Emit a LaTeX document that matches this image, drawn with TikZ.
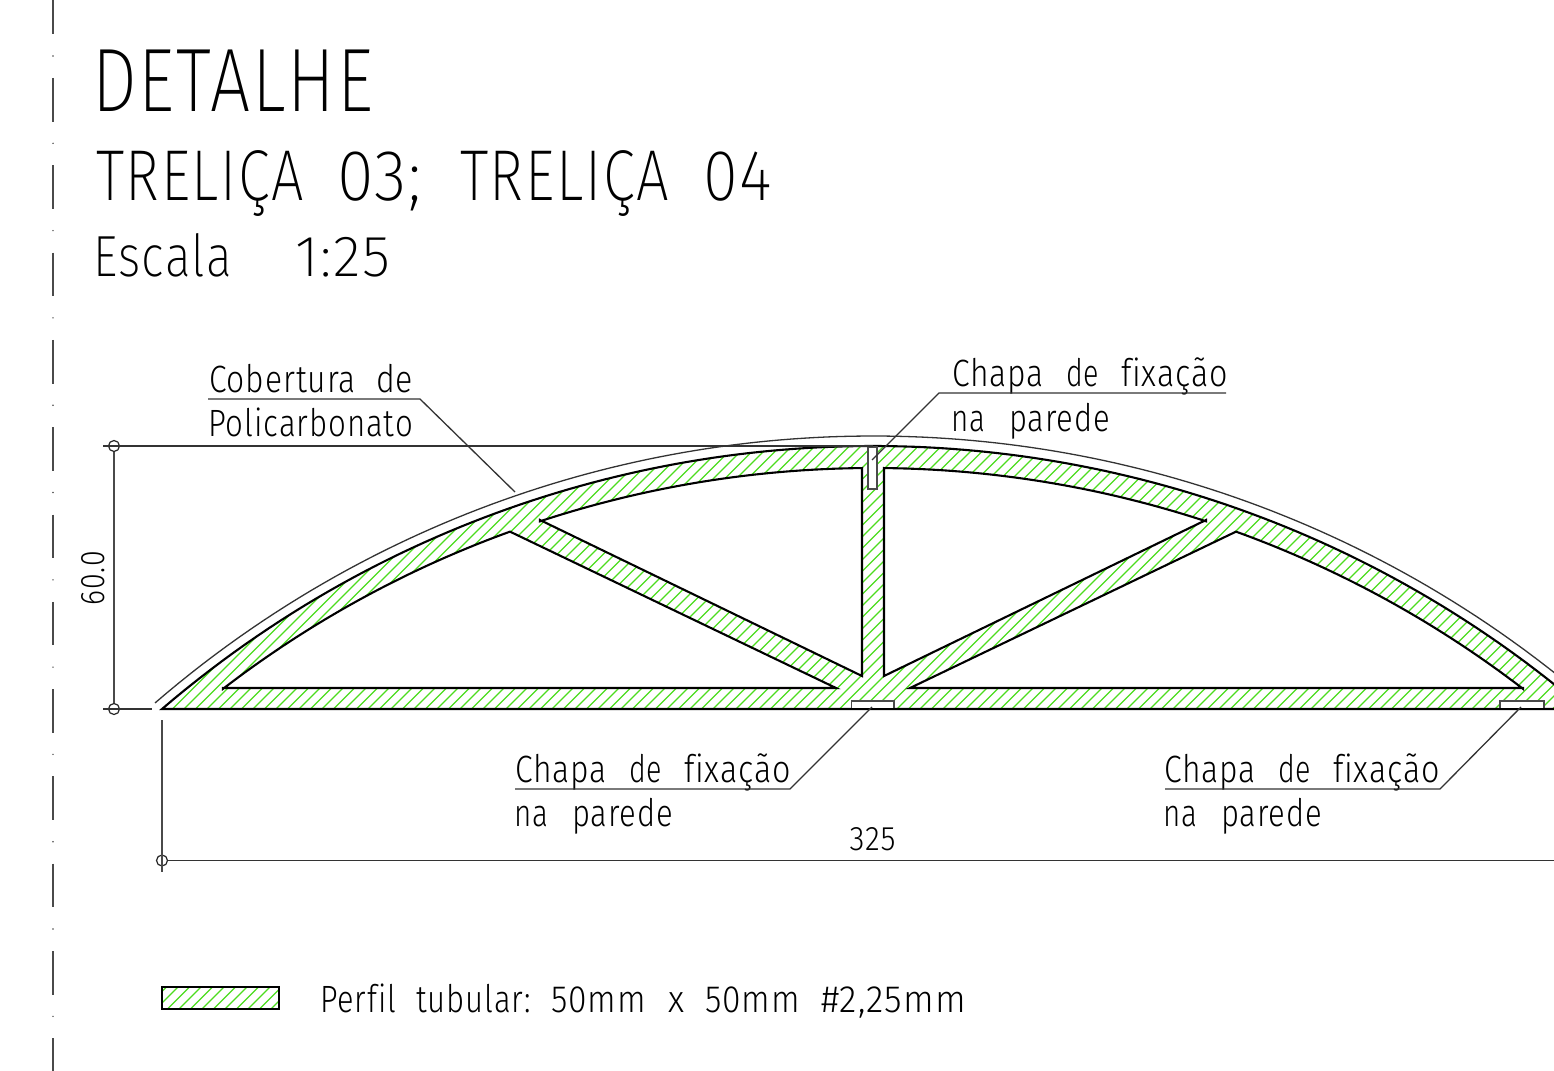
\documentclass[tikz,border=0pt]{standalone}
\usepackage{fontspec}
\usepackage{graphicx}
\newfontfamily\titlefont[LetterSpace=3,Ligatures=NoCommon]{Fira Sans ExtraLight}
\newfontfamily\labelfont[LetterSpace=3,Ligatures=NoCommon]{Fira Sans Light}
\definecolor{hatchgreen}{HTML}{4CDC1E}
\definecolor{dimgray}{HTML}{4A4A4A}
\newcommand{\fitw}[3]{\resizebox{#1pt}{\height}{\fontsize{#2}{#2}\selectfont #3}}
\newcommand{\wgap}[1]{\hspace*{#1pt}}
\newcommand{\chapatext}{\labelfont\fitw{92}{38}{Chapa}\wgap{22}\fitw{33}{38}{de}\wgap{22}\fitw{107}{38}{fixação}}
\newcommand{\natext}{\labelfont\fitw{34}{38}{na}\wgap{24}\fitw{101}{38}{parede}}
\tikzset{
  cadlabel/.style={anchor=base west,inner sep=0pt,outer sep=0pt,text=black},
  profile/.style={draw=black,line width=2.1pt,line join=miter},
  holefill/.style={profile,fill=white},
  plate/.style={draw=dimgray,line width=1.2pt,fill=white},
  thinline/.style={draw=black!80,line width=1.3pt},
  dimline/.style={draw=dimgray,line width=1.5pt},
  hatchline/.style={draw=hatchgreen,line width=1.2pt},
  dimdot/.style={circle,draw=black!85,line width=1.2pt,minimum size=11pt,inner sep=0pt,fill=none},
  declare function={arcy(\x,\r,\c)=\c-\r*sqrt(1-((\x-873)/\r)^2);}
}
\begin{document}
\begin{tikzpicture}[x=1pt,y=-1pt]
\useasboundingbox (0,0) rectangle (1554,1070);
\clip (0,0) rectangle (1554,1070);
\fill[white] (0,0) rectangle (1554,1070);
% left axis line
\foreach \k in {0,...,12}{
  \draw[draw=dimgray,line width=1.6pt] (53,{-9.3+87.3*\k}) -- (53,{34.3+87.3*\k});
  \fill[dimgray] (53,{56+87.3*\k}) circle (0.8pt);
}
% hatched body
\begin{scope}
  \clip plot[domain=162:1584,samples=120] ({\x},{arcy(\x,1092.6,1538.6)}) -- cycle;
  \foreach \c in {0,11.5,...,1760}{
    \draw[hatchline] ({\c+150},720) -- ({\c+450},420);
  }
\end{scope}
% outer outline
\draw[profile] plot[domain=162:1584,samples=120] ({\x},{arcy(\x,1092.6,1538.6)}) -- cycle;
% holes
\draw[holefill] (836,688) -- (223,688) -- plot[domain=223:510,samples=40] ({\x},{arcy(\x,1067,1535)}) -- cycle;
\draw[holefill] (862,676) -- (540,520) -- plot[domain=540:862,samples=40] ({\x},{arcy(\x,1067,1535)}) -- cycle;
\draw[holefill] (884,676) -- (1206,520) -- plot[domain=1206:884,samples=40] ({\x},{arcy(\x,1067,1535)}) -- cycle;
\draw[holefill] (910,688) -- (1523,688) -- plot[domain=1523:1236,samples=40] ({\x},{arcy(\x,1067,1535)}) -- cycle;
% plates
\draw[plate] (868,447) rectangle (877,489);
\draw[plate] (851.5,701) rectangle (894,709);
\draw[plate] (1500,701) rectangle (1544,709);
\draw[profile] (162,709) -- (1584,709);
% roof cover
\draw[thinline] plot[domain=155:1584,samples=120] ({\x},{arcy(\x,1099,1535)});
% dimensions
\coordinate (ext1a) at (103,446);
\coordinate (ext1b) at (873,446);
\coordinate (ext2a) at (103,709);
\coordinate (ext2b) at (152,709);
\coordinate (ext3a) at (162,720);
\coordinate (ext3b) at (162,872);
\coordinate (dimend) at (1554,860.5);
\node[dimdot] (dimtop) at (114,446) {};
\node[dimdot] (dimbot) at (114,709) {};
\node[dimdot] (dimleft) at (162,860.5) {};
\draw[thinline] (ext1a) -- (ext1b);
\draw[thinline] (ext2a) -- (ext2b);
\draw[dimline] (ext3a) -- (ext3b);
\draw[dimline] (dimtop) -- (dimbot);
\draw[thinline] (dimleft) -- (dimend);
\node[inner sep=0pt,rotate=90] (val60) at (93.5,578) {\labelfont\fitw{54}{34}{60.0}};
\node[inner sep=0pt] (val325) at (872.5,839) {\labelfont\fitw{46}{34}{325}};
% titles
\node[cadlabel] (t1) at (92,112) {\titlefont\fitw{281.5}{90}{DETALHE}};
\node[cadlabel] (t2) at (96,200) {\titlefont\fitw{208}{72}{TRELIÇA}\wgap{33}\fitw{85}{72}{03;}\wgap{38}\fitw{209}{72}{TRELIÇA}\wgap{34}\fitw{69}{72}{04}};
\node[cadlabel] (t3) at (93,276) {\titlefont\fitw{139}{58}{Escala}\wgap{63}\fitw{95}{58}{1:25}};
% labels
\node[cadlabel] (c1) at (209,392) {\labelfont\fitw{147}{38}{Cobertura}\wgap{20}\fitw{37}{38}{de}};
\node[cadlabel] (c2) at (208,436) {\labelfont\fitw{205}{38}{Policarbonato}};
\node[cadlabel] (a1) at (952,386) {\chapatext};
\node[cadlabel] (a2) at (951,431) {\natext};
\node[cadlabel] (b1) at (515,782) {\chapatext};
\node[cadlabel] (b2) at (514,826) {\natext};
\node[cadlabel] (d1) at (1164,782) {\chapatext};
\node[cadlabel] (d2) at (1163,826) {\natext};
\node[cadlabel] (leg) at (320,1012) {\labelfont\fitw{76}{38}{Perfil}\wgap{20}\fitw{115}{38}{tubular:}\wgap{20}\fitw{95}{38}{50mm}\wgap{22}\fitw{16}{38}{x}\wgap{21}\fitw{95}{38}{50mm}\wgap{21}\fitw{145}{38}{\#2,25mm}};
% leaders
\coordinate (u1a) at (208,399); \coordinate (u1b) at (420,399); \coordinate (u1c) at (515,492);
\coordinate (u2a) at (1226,393); \coordinate (u2b) at (939,393); \coordinate (u2c) at (872,460);
\coordinate (u3a) at (515,789); \coordinate (u3b) at (790,789); \coordinate (u3c) at (872,707);
\coordinate (u4a) at (1165,789); \coordinate (u4b) at (1440,789); \coordinate (u4c) at (1521,707);
\draw[thinline] (u1a) -- (u1b) -- (u1c);
\draw[thinline] (u2a) -- (u2b) -- (u2c);
\draw[thinline] (u3a) -- (u3b) -- (u3c);
\draw[thinline] (u4a) -- (u4b) -- (u4c);
% legend swatch
\begin{scope}
  \clip (162,987) rectangle (279,1009);
  \foreach \c in {130,141.5,...,300}{
    \draw[hatchline] (\c,1012) -- ({\c+30},982);
  }
\end{scope}
\draw[profile,line width=1.8pt] (162,987) rectangle (279,1009);
\end{tikzpicture}
\end{document}
